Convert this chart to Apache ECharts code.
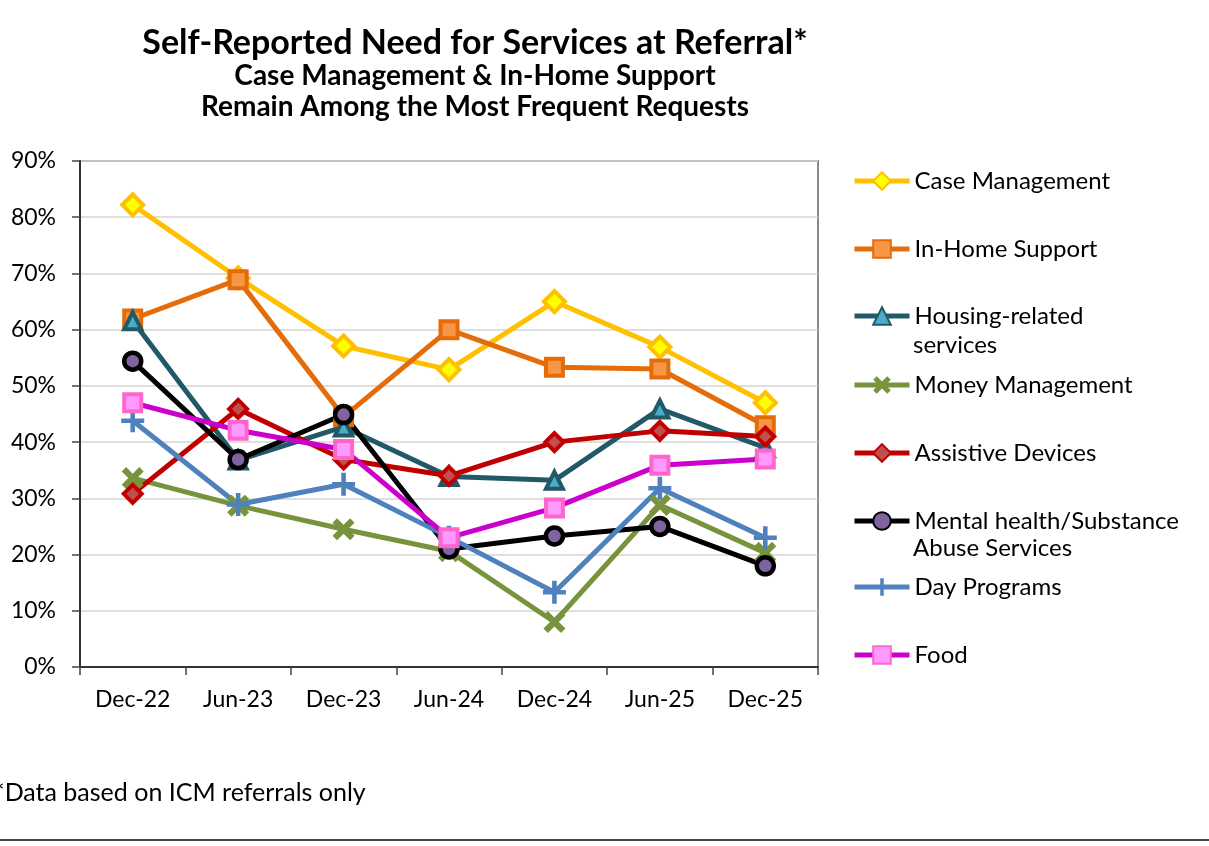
<!DOCTYPE html>
<html>
<head>
<meta charset="utf-8">
<script src="https://cdn.jsdelivr.net/npm/echarts@6/dist/echarts.min.js"></script>
<style>
  html, body { margin: 0; padding: 0; background: #fff; }
  #chart { width: 1209px; height: 846px; }
</style>
</head>
<body>
<div id="chart"></div>
<script>
var categories = ['Dec-22', 'Jun-23', 'Dec-23', 'Jun-24', 'Dec-24', 'Jun-25', 'Dec-25'];

var caseManagement = [82.2, 69.2, 57.1, 52.9, 65.0, 56.9, 47.0];
var inHomeSupport = [61.9, 68.9, 44.5, 60.0, 53.3, 53.0, 42.9];
var housingRelated = [61.6, 36.8, 42.7, 33.9, 33.2, 45.9, 39.0];
var moneyManagement = [33.6, 28.7, 24.5, 20.6, 8.0, 28.8, 20.3];
var assistiveDevices = [30.8, 45.9, 36.9, 34.0, 40.0, 42.0, 41.0];
var mentalHealth = [54.4, 36.9, 44.9, 21.0, 23.3, 25.0, 18.0];
var dayPrograms = [43.8, 28.9, 32.5, 23.1, 13.3, 31.8, 23.0];
var food = [47.0, 42.1, 38.7, 23.0, 28.3, 35.9, 37.0];

var yTicks = [0, 10, 20, 30, 40, 50, 60, 70, 80, 90];

var FONT = 'Lato, "DejaVu Sans", sans-serif';
var X_PATH = 'path://M2,0 L5,3 L8,0 L10,2 L7,5 L10,8 L8,10 L5,7 L2,10 L0,8 L3,5 L0,2 Z';
var PLUS_PATH = 'path://M4,0 L6,0 L6,4 L10,4 L10,6 L6,6 L6,10 L4,10 L4,6 L0,6 L0,4 L4,4 Z';

function line(name, data, lineColor, symbol, size, fill, border, borderWidth) {
  return {
    name: name,
    type: 'line',
    data: data,
    symbol: symbol,
    symbolSize: size,
    lineStyle: { color: lineColor, width: 5 },
    itemStyle: { color: fill, borderColor: border, borderWidth: borderWidth },
    emphasis: { disabled: true },
    z: 2
  };
}

var series = [
  line('Case Management', caseManagement, '#FFC000', 'diamond', 21, '#FFFF00', '#FFC000', 4),
  line('In-Home Support', inHomeSupport, '#E46C0A', 'rect', 17, '#F79646', '#E46C0A', 4),
  line('Housing-related services', housingRelated, '#215968', 'triangle', 17, '#4BACC6', '#215968', 4),
  line('Money Management', moneyManagement, '#77933C', X_PATH, 22, '#77933C', '#77933C', 0),
  line('Assistive Devices', assistiveDevices, '#C00000', 'diamond', 18, '#C0504D', '#C00000', 4),
  line('Mental health/Substance Abuse Services', mentalHealth, '#000000', 'circle', 17, '#8064A2', '#000000', 4.5),
  line('Day Programs', dayPrograms, '#4F81BD', PLUS_PATH, 23, '#4F81BD', '#4F81BD', 0),
  line('Food', food, '#CC00CC', 'rect', 17, '#FF99FF', '#FF66CC', 4)
];

var legendTops = [180, 248, 315, 384, 452, 520, 586, 654];
var legendLabels = ['Case Management', 'In-Home Support', 'Housing-related', 'Money Management',
  'Assistive Devices', 'Mental health/Substance', 'Day Programs', 'Food'];

var legends = series.map(function (s, i) {
  return {
    data: [s.name],
    left: 852,
    top: legendTops[i] - 11,
    padding: 0,
    itemWidth: 55,
    itemHeight: 22,
    selectedMode: false,
    lineStyle: { width: 5 },
    formatter: function () { return legendLabels[i]; },
    textStyle: { fontFamily: FONT, fontSize: 24, color: '#000' }
  };
});

var option = {
  backgroundColor: '#fff',
  animation: false,
  title: [
    {
      text: 'Self-Reported Need for Services at Referral*',
      left: 470, top: 21, textAlign: 'center',
      textStyle: { fontFamily: FONT, fontSize: 34, fontWeight: 'bold', color: '#000' }
    },
    {
      text: 'Case Management & In-Home Support\nRemain Among the Most Frequent Requests',
      left: 470, top: 55, textAlign: 'center',
      textStyle: { fontFamily: FONT, fontSize: 28, fontWeight: 'bold', color: '#000', lineHeight: 31 }
    }
  ],
  legend: legends,
  grid: {
    left: 80, right: 391, top: 161, bottom: 179,
    show: true, borderColor: '#8a8a8a', borderWidth: 2
  },
  xAxis: {
    type: 'category',
    data: categories,
    boundaryGap: true,
    axisLine: { lineStyle: { color: '#333', width: 2 } },
    axisTick: { show: true, length: 8, lineStyle: { color: '#444', width: 1.5 } },
    axisLabel: { fontFamily: FONT, fontSize: 23, color: '#000', margin: 21 }
  },
  yAxis: {
    type: 'value',
    min: 0, max: 90, interval: 10,
    axisLine: { show: true, lineStyle: { color: '#333', width: 2 } },
    axisTick: { show: true, length: 8, lineStyle: { color: '#444', width: 1.5 } },
    splitLine: { lineStyle: { color: '#d4d4d4', width: 1.5 } },
    axisLabel: {
      fontFamily: FONT, fontSize: 23, color: '#000', margin: 24,
      formatter: function (v) { return yTicks.indexOf(v) >= 0 ? v + '%' : ''; }
    }
  },
  graphic: [
    { type: 'text', left: 913, top: 333, style: { text: 'services', font: '24px ' + FONT, fill: '#000' } },
    { type: 'text', left: 913, top: 536, style: { text: 'Abuse Services', font: '24px ' + FONT, fill: '#000' } },
    { type: 'text', left: -6, top: 780, style: { text: '*Data based on ICM referrals only', font: '25px ' + FONT, fill: '#000' } },
    { type: 'line', shape: { x1: 0, y1: 840, x2: 1209, y2: 840 }, style: { stroke: '#444', lineWidth: 2 } }
  ],
  series: series
};

var myChart = echarts.init(document.getElementById('chart'));
myChart.setOption(option);
</script>
</body>
</html>
